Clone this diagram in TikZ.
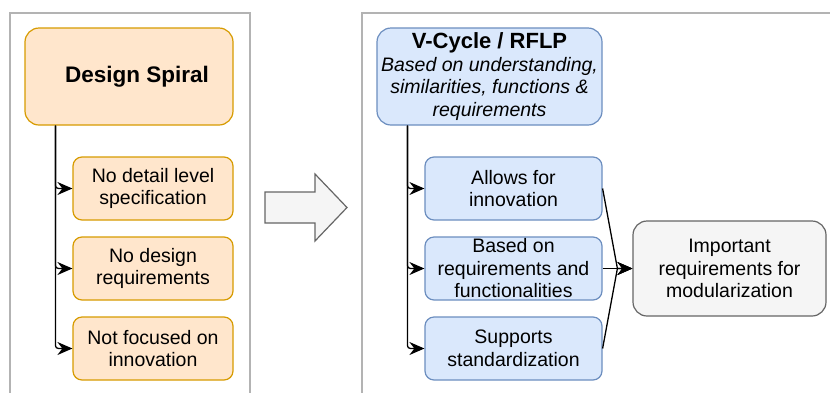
\documentclass[tikz,border=0pt]{standalone}
\usepackage{fontspec}
\setmainfont{Liberation Sans}
\usetikzlibrary{arrows.meta}
\definecolor{orfill}{HTML}{FFE6CC}
\definecolor{ordraw}{HTML}{D79B00}
\definecolor{blfill}{HTML}{DAE8FC}
\definecolor{bldraw}{HTML}{6C8EBF}
\definecolor{gyfill}{HTML}{F5F5F5}
\definecolor{gydraw}{HTML}{666666}
\definecolor{panel}{HTML}{B3B3B3}
\tikzset{
  box/.style={draw, line width=1.2pt, align=center, inner xsep=2pt, inner ysep=0pt,
    font=\fontsize{19.5}{22.5}\selectfont},
  orbox/.style={box, fill=orfill, draw=ordraw},
  blbox/.style={box, fill=blfill, draw=bldraw},
  gybox/.style={box, fill=gyfill, draw=gydraw},
  bigbox/.style={minimum height=97pt, rounded corners=14pt},
  subbox/.style={minimum height=63pt, rounded corners=9pt},
  conn/.style={line width=1.3pt, rounded corners=3pt,
    -{Stealth[length=15pt,width=13pt,inset=5pt]}},
  panelframe/.style={draw=panel, line width=1.2pt},
}
\begin{document}
\begin{tikzpicture}[x=1pt,y=-1pt]
\useasboundingbox (0,0) rectangle (830,392);
\clip (0,0) rectangle (830,392);

% the two panels
\draw[panelframe] (10,420) -- (10,13) -- (250,13) -- (250,420);
\draw[panelframe] (362,420) -- (362,13) -- (860,13);

% left panel
\node[orbox, bigbox, minimum width=208pt] (ds) at (129,76.5)
  {\hspace*{16pt}\fontsize{22.5}{26}\selectfont\bfseries Design Spiral};
\node[orbox, subbox, minimum width=160pt] (a1) at (153,188.5) {No detail level\\specification};
\node[orbox, subbox, minimum width=160pt] (a2) at (153,268.5) {No design\\requirements};
\node[orbox, subbox, minimum width=160pt] (a3) at (153,348.5) {Not focused on\\innovation};

\draw[conn] ([xshift=31pt]ds.south west) |- (a1.west);
\draw[conn] ([xshift=31pt]ds.south west) |- (a2.west);
\draw[conn] ([xshift=31pt]ds.south west) |- (a3.west);

% transition arrow
\draw[fill=gyfill, draw=gydraw, line width=1.2pt]
  (265,192) -- (315,192) -- (315,174) -- (347,207.5) -- (315,241) -- (315,223) -- (265,223) -- cycle;

% right panel
\node[blbox, bigbox, minimum width=225pt] (vc) at (489.5,76.5)
  {{\fontsize{22}{25}\selectfont\bfseries V-Cycle / RFLP}\\
   \itshape Based on understanding,\\ \itshape similarities, functions \&\\ \itshape requirements};
\node[blbox, subbox, minimum width=177pt] (b1) at (513.5,188.5) {Allows for\\innovation};
\node[blbox, subbox, minimum width=177pt] (b2) at (513.5,268.5) {Based on\\requirements and\\functionalities};
\node[blbox, subbox, minimum width=177pt] (b3) at (513.5,348.5) {Supports\\standardization};
\node[gybox, minimum width=193pt, minimum height=95pt, rounded corners=14pt] (imp) at (729.5,268.5)
  {Important\\requirements for\\modularization};

\draw[conn] ([xshift=31pt]vc.south west) |- (b1.west);
\draw[conn] ([xshift=31pt]vc.south west) |- (b2.west);
\draw[conn] ([xshift=31pt]vc.south west) |- (b3.west);

\coordinate (join) at ([xshift=-15pt]imp.west);
\draw[conn, rounded corners=0pt] (b1.east) -- (join) -- (imp.west);
\draw[conn, rounded corners=0pt] (b2.east) -- (join) -- (imp.west);
\draw[conn, rounded corners=0pt] (b3.east) -- (join) -- (imp.west);
\end{tikzpicture}
\end{document}
